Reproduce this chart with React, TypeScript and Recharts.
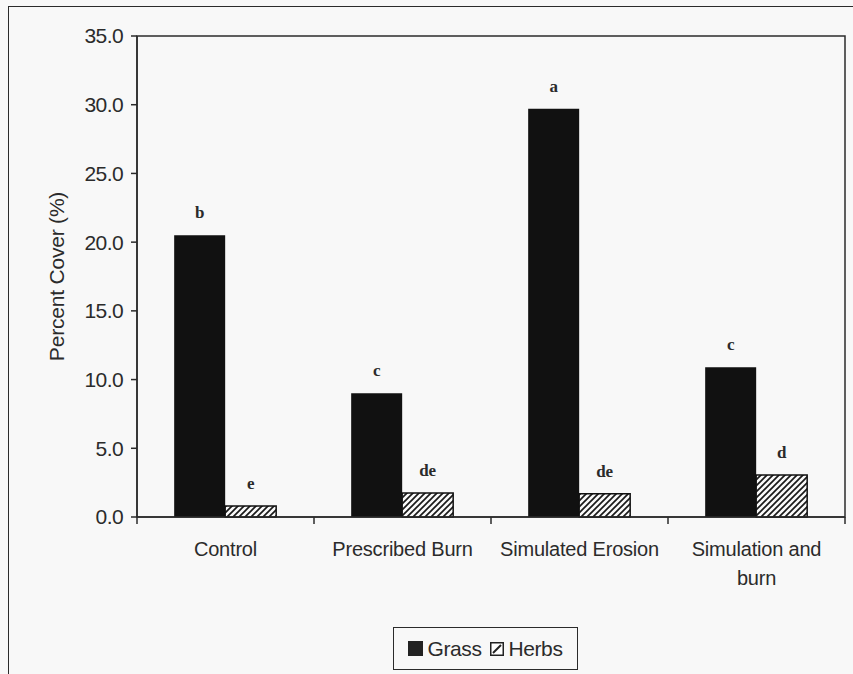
import React from "react";
import {
  BarChart,
  Bar,
  XAxis,
  YAxis,
  LabelList,
  Legend,
  ReferenceArea,
} from "recharts";

// treatments and cover values
const categories = ["Control", "Prescribed Burn", "Simulated Erosion", "Simulation and\nburn"];
const grass = [20.5, 9.0, 29.7, 10.9];
const herbs = [0.8, 1.75, 1.7, 3.05];
const grassLetters = ["b", "c", "a", "c"];
const herbLetters = ["e", "de", "de", "d"];
const yTicks = [0, 5, 10, 15, 20, 25, 30, 35];

const data = categories.map((c, i) => ({
  name: c,
  grass: grass[i],
  herbs: herbs[i],
  gSig: grassLetters[i],
  hSig: herbLetters[i],
}));

const FONT = '"Liberation Sans", Arial, sans-serif';
const INK = "#2b2b2b";

function XTick(props: any) {
  const { x, y, payload, index } = props;
  const half = payload?.offset ?? 88.5;
  const lines = String(payload.value).split("\n");
  return (
    <g>
      <line x1={x - half} y1={y - 8} x2={x - half} y2={y - 1} stroke={INK} strokeWidth={1.5} />
      {index === categories.length - 1 && (
        <line x1={x + half} y1={y - 8} x2={x + half} y2={y - 1} stroke={INK} strokeWidth={1.5} />
      )}
      {lines.map((l, i) => (
        <text
          key={i}
          x={x}
          y={y + 31 + i * 29}
          textAnchor="middle"
          fill={INK}
          fontFamily={FONT}
          fontSize={20}
          letterSpacing={-0.2}
        >
          {l}
        </text>
      ))}
    </g>
  );
}

function YLabel(props: any) {
  const vb = props.viewBox || { x: 37, y: 36, width: 100, height: 481 };
  const cx = vb.x + 19;
  const cy = vb.y + vb.height / 2;
  return (
    <text
      x={cx}
      y={cy}
      transform={`rotate(-90 ${cx} ${cy})`}
      textAnchor="middle"
      dominantBaseline="central"
      fill={INK}
      fontFamily={FONT}
      fontSize={21}
      letterSpacing={-0.2}
    >
      Percent Cover (%)
    </text>
  );
}

function LegendBox() {
  return (
    <div
      style={{
        width: 183,
        height: 41,
        border: `1.5px solid ${INK}`,
        display: "flex",
        alignItems: "center",
        justifyContent: "center",
        fontFamily: FONT,
        fontSize: 21,
        color: INK,
        letterSpacing: -0.4,
        background: "#f8f8f8",
      }}
    >
      <span style={{ width: 15, height: 15, background: "#222", marginRight: 4 }} />
      <span>Grass</span>
      <svg width={14} height={14} style={{ marginLeft: 9, marginRight: 4 }}>
        <rect x={0.75} y={0.75} width={12.5} height={12.5} fill="#fff" stroke="#222" strokeWidth={1.5} />
        <line x1={3} y1={11} x2={11} y2={3} stroke="#222" strokeWidth={2} />
      </svg>
      <span>Herbs</span>
    </div>
  );
}

export default function App() {
  return (
    <div
      style={{
        position: "fixed",
        left: 0,
        top: 0,
        width: 853,
        height: 674,
        background: "#f8f8f8",
        overflow: "hidden",
      }}
    >
      <svg width={0} height={0} style={{ position: "absolute" }}>
        <defs>
          <pattern id="hatch" patternUnits="userSpaceOnUse" width={6} height={6}>
            <rect width={6} height={6} fill="#fafafa" />
            <path d="M0,6 L6,0 M-1.5,1.5 L1.5,-1.5 M4.5,7.5 L7.5,4.5" stroke="#1a1a1a" strokeWidth={1.7} />
          </pattern>
        </defs>
      </svg>
      <div
        style={{
          position: "absolute",
          left: 8,
          top: 6,
          width: 900,
          height: 700,
          borderLeft: `1.5px solid ${INK}`,
          borderTop: `1.5px solid ${INK}`,
        }}
      />
      <div style={{ position: "absolute", left: 0, top: 0 }}>
        <BarChart
          width={853}
          height={674}
          data={data}
          margin={{ top: 36, right: 8, left: 37, bottom: 77 }}
          barCategoryGap="21%"
          barGap={0}
        >
          <ReferenceArea y1={0} y2={35} fill="none" stroke={INK} strokeWidth={1.5} ifOverflow="visible" />
          <XAxis
            dataKey="name"
            height={80}
            tick={<XTick />}
            tickLine={false}
            axisLine={{ stroke: INK, strokeWidth: 1.5 }}
            interval={0}
          />
          <YAxis
            width={100}
            domain={[0, 35]}
            ticks={yTicks}
            tickFormatter={(v: number) => v.toFixed(1)}
            tick={{ fill: INK, fontFamily: FONT, fontSize: 21, letterSpacing: -0.6 } as any}
            tickSize={6}
            tickMargin={8}
            tickLine={{ stroke: INK, strokeWidth: 1.5 }}
            axisLine={{ stroke: INK, strokeWidth: 1.5 }}
            label={<YLabel />}
          />
          <Legend
            layout="horizontal"
            verticalAlign="middle"
            align="center"
            content={<LegendBox />}
            wrapperStyle={{ left: 393, top: 627, width: 185, height: 43 }}
          />
          <Bar dataKey="grass" name="Grass" fill="#111" isAnimationActive={false}>
            <LabelList
              dataKey="gSig"
              position="top"
              offset={17}
              fill={INK}
              fontFamily='"Liberation Serif", "Times New Roman", serif'
              fontWeight="bold"
              fontSize={17}
            />
          </Bar>
          <Bar
            dataKey="herbs"
            name="Herbs"
            fill="url(#hatch)"
            stroke="#111"
            strokeWidth={1.5}
            isAnimationActive={false}
          >
            <LabelList
              dataKey="hSig"
              position="top"
              offset={17}
              fill={INK}
              fontFamily='"Liberation Serif", "Times New Roman", serif'
              fontWeight="bold"
              fontSize={17}
            />
          </Bar>
        </BarChart>
      </div>
    </div>
  );
}
